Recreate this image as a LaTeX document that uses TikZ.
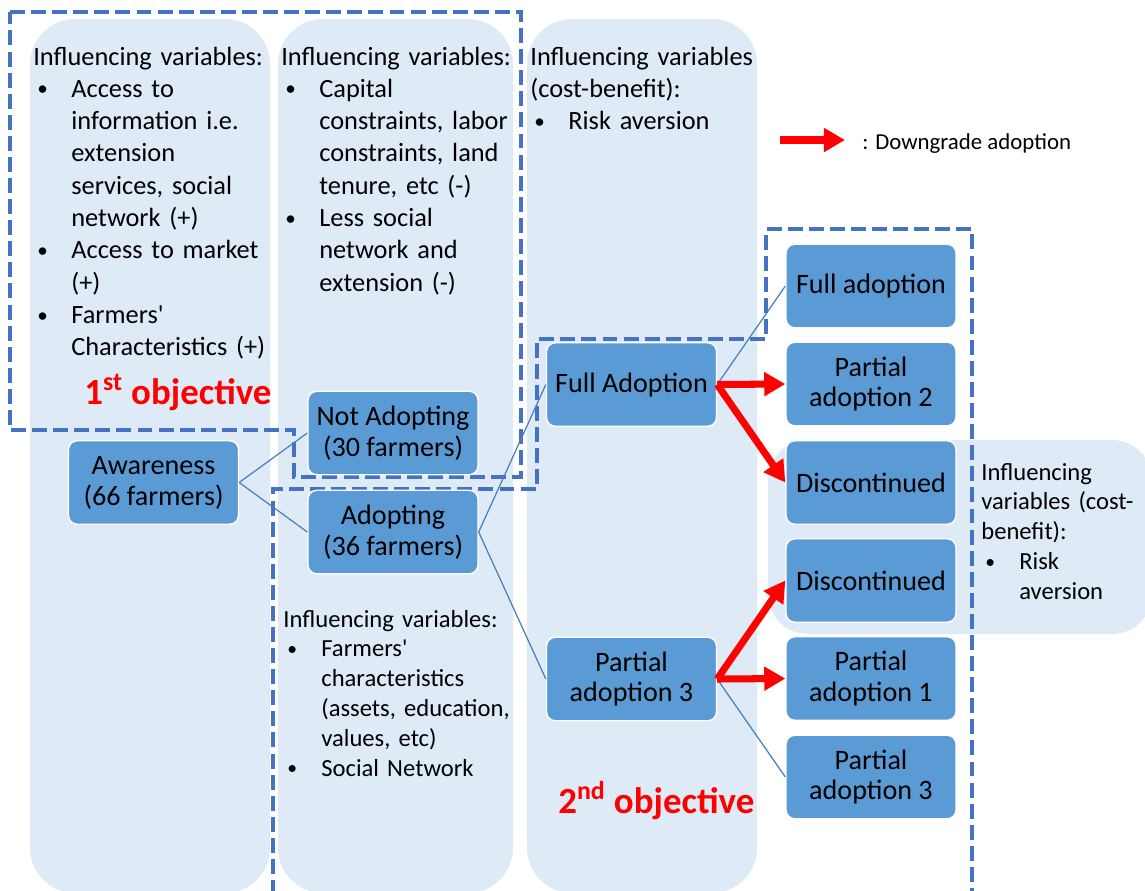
\documentclass[tikz,border=0pt]{standalone}
\usepackage{fontspec}
\setmainfont{Carlito}
\usetikzlibrary{arrows.meta}
\definecolor{colbg}{HTML}{DEEBF7}
\definecolor{boxblue}{HTML}{5B9BD5}
\definecolor{dashblue}{HTML}{4472C4}
\definecolor{lineblue}{HTML}{4A7EBB}
\definecolor{objred}{HTML}{FF0000}
\newcommand{\bul}[1]{\par\noindent\hangindent=0.76cm\hangafter=1\makebox[0.76cm][l]{\hspace{0.08cm}\raisebox{0.12ex}{\scalebox{0.8}{\textbullet}}}#1\par}
\newcommand{\nl}{\newline}
\tikzset{
  colfill/.style={fill=colbg, rounded corners=0.9cm},
  dashbox/.style={draw=dashblue, line width=1.9pt, dash pattern=on 8.5pt off 3.5pt},
  darkbox/.style={rectangle, rounded corners=5pt, fill=boxblue, draw=white, line width=0.8pt,
    minimum width=3.4cm, minimum height=1.67cm, inner sep=0pt, align=center,
    font=\fontsize{16}{17.6}\selectfont},
  conn/.style={draw=lineblue, line width=0.7pt},
  redarr/.style={draw=objred, line width=4pt, -{Triangle[length=12pt,width=13pt]}},
  coltext/.style={anchor=base west, inner sep=0pt, text width=5.5cm, align=left,
    font=\fontsize{15}{18.4}\selectfont},
  smalltext/.style={anchor=base west, inner sep=0pt, text width=5.5cm, align=left,
    font=\fontsize{14}{17}\selectfont},
  objtext/.style={anchor=base west, inner sep=0pt, text=objred,
    font=\fontsize{21}{24}\selectfont\bfseries}
}
\begin{document}
\begin{tikzpicture}[x=0.02cm,y=-0.02cm]
\useasboundingbox (0,0) rectangle (1145,890);
\clip (0,0) rectangle (1145,890);
% light columns
\fill[colfill] (30,19) rectangle (270,893);
\fill[colfill] (278,19) rectangle (513,893);
\fill[colfill] (527,19) rectangle (757,893);
\fill[fill=colbg, rounded corners=0.8cm] (768,440) rectangle (1152,634);

% column texts
\node[coltext] (t1) at (33,65) {Influencing variables:
\bul{Access to\nl information i.e.\nl extension\nl services, social\nl network (+)}
\bul{Access to market\nl (+)}
\bul{Farmers\textquotesingle\nl Characteristics (+)}};
\node[coltext] (t2) at (281,65) {Influencing variables:
\bul{Capital\nl constraints, labor\nl constraints, land\nl tenure, etc (-)}
\bul{Less social\nl network and\nl extension (-)}};
\node[coltext] (t3) at (530,65) {Influencing variables\\(cost-benefit):
\bul{Risk aversion}};
\node[smalltext] (t4) at (283,627) {Influencing variables:
\bul{Farmers\textquotesingle\nl characteristics\nl (assets, education,\nl values, etc)}
\bul{Social Network}};
\node[smalltext] (t5) at (981,480) {Influencing\\variables (cost-\\benefit):
\bul{Risk\nl aversion}};

% objectives
\node[objtext] (o1) at (84,404) {1\textsuperscript{st} objective};
\node[objtext] (o2) at (558,813) {2\textsuperscript{nd} objective};

% dashed outlines
\draw[dashbox] (10,12) -- (521,12) -- (521,477) -- (294,477) -- (294,430) -- (10,430) -- cycle;
\draw[dashbox] (273,895) -- (273,489) -- (537,489) -- (537,339) -- (766,339) -- (766,229) -- (972,229) -- (972,895);

% boxes
\node[darkbox] (aw) at (153.5,482.5) {Awareness\\(66 farmers)};
\node[darkbox] (na) at (393,433) {Not Adopting\\(30 farmers)};
\node[darkbox] (ad) at (393,532) {Adopting\\(36 farmers)};
\node[darkbox] (fA) at (631.5,384.5) {Full Adoption};
\node[darkbox] (pl) at (631.5,679) {Partial\\adoption 3};
\node[darkbox] (fa) at (871,286) {Full adoption};
\node[darkbox] (p2) at (871,384) {Partial\\adoption 2};
\node[darkbox] (d1) at (871,482.5) {Discontinued};
\node[darkbox] (d2) at (871,580.5) {Discontinued};
\node[darkbox] (p1) at (871,678.5) {Partial\\adoption 1};
\node[darkbox] (p3) at (871,777) {Partial\\adoption 3};

% connectors
\draw[conn] (aw.east) -- (na.west);
\draw[conn] (aw.east) -- (ad.west);
\draw[conn] (ad.east) -- (fA.west);
\draw[conn] (ad.east) -- (pl.west);
\draw[conn] (fA.east) -- (fa.west);
\draw[conn] (pl.east) -- (p3.west);

% red arrows
\draw[redarr] (fA.east) -- (p2.west);
\draw[redarr] (fA.east) -- (d1.west);
\draw[redarr] (pl.east) -- (d2.west);
\draw[redarr] (pl.east) -- (p1.west);

% legend
\coordinate (l1) at (780,140);
\coordinate (l2) at (845,140);
\draw[redarr] (l1) -- (l2);
\node[anchor=base west, inner sep=0pt, font=\fontsize{13}{15}\selectfont] (lt) at (862,149) {: Downgrade adoption};
\end{tikzpicture}
\end{document}
